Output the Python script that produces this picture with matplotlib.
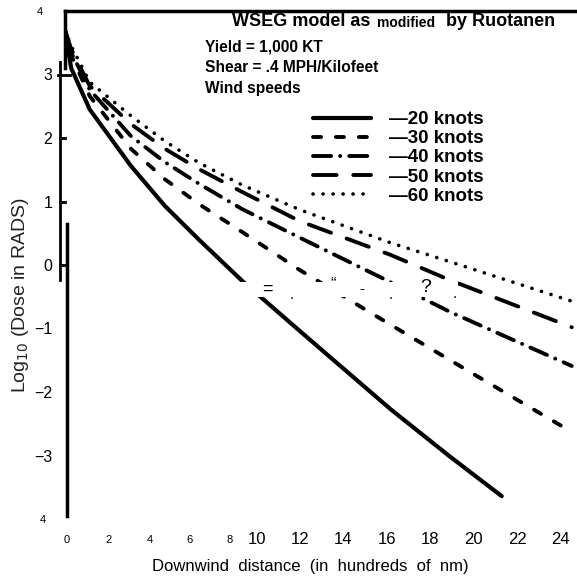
import matplotlib
matplotlib.use('Agg')
import matplotlib.pyplot as plt
from matplotlib.patches import Rectangle
from matplotlib.transforms import ScaledTranslation

plt.rcParams['font.family'] = ['Liberation Sans', 'DejaVu Sans']
plt.rcParams['lines.scale_dashes'] = False

# downwind distance (hundreds of nm) and log10 dose (rads)
dist = [0, 0.3, 1.2, 3.2, 4.85, 6.5, 8.6, 11.4, 15.8, 18.7, 24.6]
dist_20 = [0, 0.3, 1.2, 3.2, 4.85, 6.5, 8.6, 11.4, 15.8, 18.7, 21.2]
dose_20 = [3.7, 3.1, 2.45, 1.56, 0.93, 0.40, -0.25, -1.04, -2.27, -3.02, -3.64]
dose_30 = [3.7, 3.3, 2.66, 1.83, 1.35, 0.96, 0.52, -0.08, -0.94, -1.50, -2.63]
dose_40 = [3.7, 3.35, 2.76, 2.03, 1.62, 1.28, 0.88, 0.43, -0.27, -0.74, -1.59]
dose_50 = [3.7, 3.4, 2.82, 2.22, 1.83, 1.51, 1.15, 0.69, 0.16, -0.24, -0.98]
dose_60 = [3.7, 3.45, 2.88, 2.35, 1.95, 1.61, 1.26, 0.87, 0.35, 0.05, -0.57]
speed_labels = ['\u201420 knots', '\u201430 knots', '\u201440 knots', '\u201450 knots', '\u201460 knots']

xtick_small = [0, 2, 4, 6, 8]
xtick_big = [10, 12, 14, 16, 18, 20, 22, 24]
ytick_vals = [4, 3, 2, 1, 0, -1, -2, -3, -4]
ytick_text = ['4', '3', '2', '1', '0', '\u22121', '\u22122', '\u22123', '4']

# the scanned labels sit a little off the true grid (pixels)
xlabel_nudge = [2, 2, 2, 1, 0, -14, -12, -10, -8, -6, -4, -1, 1]
ylabel_nudge = [-10, 0, 0, 0, 0, 0, 0, 0, -7]

fig = plt.figure(figsize=(5.77, 5.84), dpi=100)
ax = fig.add_axes([65 / 577, 1 - 519 / 584, 512 / 577, 508 / 584])
ax.set_xlim(0, 512 / 20.6)
ax.set_ylim(-4, 4)

lines = []
l, = ax.plot(dist_20, dose_20, color='black', lw=3.0, solid_capstyle='round')
lines.append(l)
styles = [(0, (5.8, 10.7)), (0, (13, 6.5, 0.1, 6.5)), (0, (17, 12)), (0, (0.1, 7.1))]
for ys, ls, w in zip([dose_30, dose_40, dose_50, dose_60], styles, [2.8, 2.8, 2.8, 2.6]):
    l, = ax.plot(dist, ys, color='black', lw=w, linestyle=ls, dash_capstyle='round')
    lines.append(l)

# scanner damage: blank strip with stray characters
ax.add_patch(Rectangle((8.4, -0.504), 10.7, 0.236, facecolor='white', edgecolor='none', zorder=5))
stray = [('=', 9.8, -0.39, 13), ('.', 11.0, -0.47, 11), ('\u201c', 13.0, -0.30, 12),
         ('-', 14.4, -0.38, 11), ('.', 15.8, -0.47, 11), ('?', 17.5, -0.36, 14), ('.', 18.9, -0.46, 11)]
for s, x, y, fs in stray:
    ax.text(x, y, s, fontsize=fs, ha='center', va='center', zorder=6)

# frame
for side in ['right', 'bottom']:
    ax.spines[side].set_visible(False)
ax.spines['top'].set_linewidth(2.5)
ax.spines['left'].set_linewidth(2.5)
ax.spines['left'].set_bounds(3.1, 4)
yt = ax.get_yaxis_transform()
ax.plot([-0.0098, -0.0098], [3.2, -0.24], color='black', lw=2, transform=yt, clip_on=False)
ax.plot([0.004, 0.004], [0.65, -3.95], color='black', lw=2.5, transform=yt, clip_on=False)
ax.plot([-0.014, 0.01], [3, 3], color='black', lw=2, transform=yt, clip_on=False)
for v in [2, 1, 0]:
    ax.plot([-0.0098, 0.0], [v, v], color='black', lw=2, transform=yt, clip_on=False)

ax.set_xticks(xtick_small + xtick_big, [str(v) for v in xtick_small + xtick_big])
ax.tick_params(axis='x', length=0, pad=15)
ax.set_yticks(ytick_vals, ytick_text)
ax.tick_params(axis='y', length=0, pad=9)
for lab, dx in zip(ax.get_xticklabels(), xlabel_nudge):
    lab.set_va('center')
    lab.set_fontsize(8 if int(lab.get_text()) < 10 else 12)
    lab.set_transform(lab.get_transform() + ScaledTranslation(dx / 100, 0, fig.dpi_scale_trans))
for lab, v, dx in zip(ax.get_yticklabels(), ytick_vals, ylabel_nudge):
    lab.set_fontsize(8 if abs(v) == 4 else 11.5)
    lab.set_transform(lab.get_transform() + ScaledTranslation(dx / 100, 0, fig.dpi_scale_trans))

ax.set_xlabel('Downwind  distance  (in  hundreds  of  nm)', fontsize=12)
ax.xaxis.set_label_coords(0.48, -0.079)
ax.set_ylabel('Log$_{10}$ (Dose in RADS)', fontsize=14, color='#222222')
ax.yaxis.set_label_coords(-0.066, 0.44)

# header text
fig.text(232 / 577, 1 - 22 / 584, 'WSEG model as', fontsize=13, weight='bold', va='center')
fig.text(377 / 577, 1 - 23 / 584, 'modified', fontsize=10, weight='bold', va='center')
fig.text(446 / 577, 1 - 22 / 584, 'by Ruotanen', fontsize=13, weight='bold', va='center')
fig.text(205 / 577, 1 - 47 / 584, 'Yield = 1,000 KT', fontsize=11.2, weight='bold', va='center')
fig.text(205 / 577, 1 - 67 / 584, 'Shear = .4 MPH/Kilofeet', fontsize=11.2, weight='bold', va='center')
fig.text(205 / 577, 1 - 89 / 584, 'Wind speeds', fontsize=11.2, weight='bold', va='center')

ax.legend(lines, speed_labels, loc='upper left', bbox_to_anchor=(313 / 577, 1 - 111 / 584),
          bbox_transform=fig.transFigure, frameon=False, borderpad=0, borderaxespad=0,
          handlelength=3.1, handletextpad=0.95, labelspacing=0.11,
          prop={'weight': 'bold', 'size': 13.5})

fig.savefig('out.png', dpi=100)
